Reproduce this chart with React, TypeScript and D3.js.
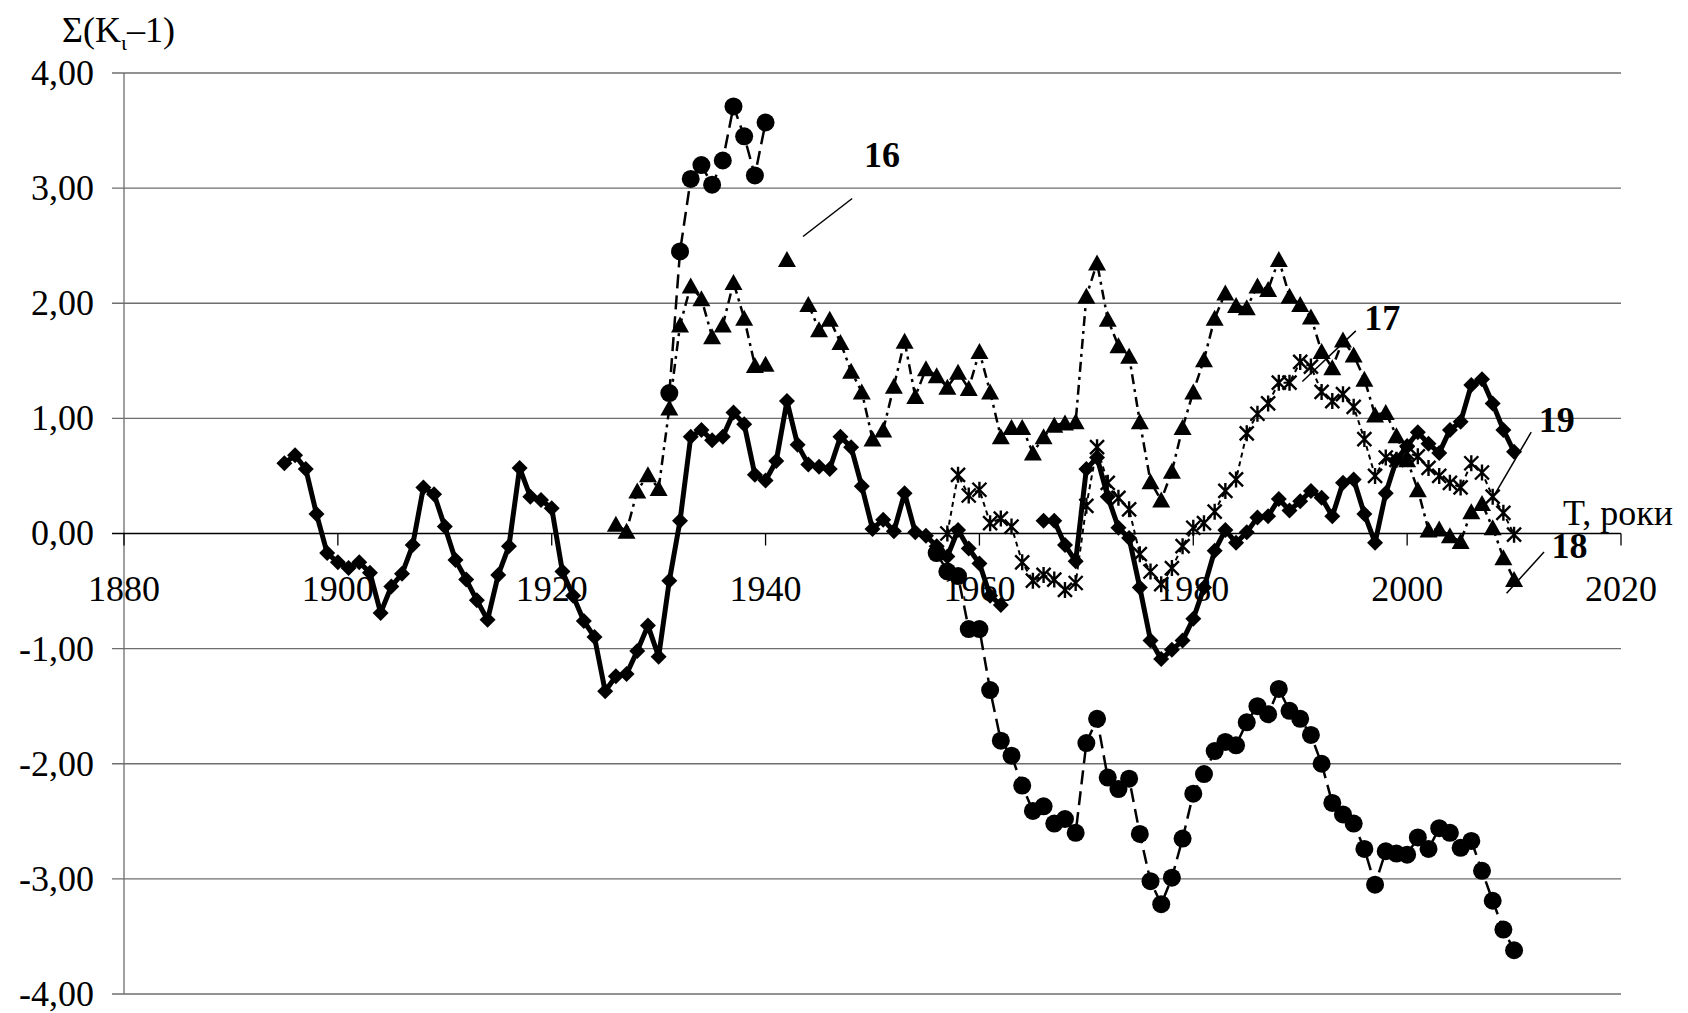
import React from "react";
import * as d3 from "d3";

// Sum of (K - 1) by year. null = no point.
const diamondStart = 1895;
const diamondValues = [
  0.61, 0.68, 0.56, 0.17, -0.17, -0.25, -0.3, -0.25, -0.34, -0.69,
  -0.46, -0.35, -0.1, 0.4, 0.34, 0.06, -0.23, -0.4, -0.58, -0.75,
  -0.36, -0.11, 0.57, 0.32, 0.29, 0.22, -0.33, -0.54, -0.76, -0.9,
  -1.37, -1.24, -1.22, -1.02, -0.8, -1.07, -0.41, 0.11, 0.84, 0.9,
  0.81, 0.84, 1.05, 0.95, 0.51, 0.46, 0.63, 1.15, 0.77, 0.6,
  0.58, 0.56, 0.84, 0.75, 0.41, 0.04, 0.12, 0.02, 0.35, 0.01,
  -0.02, -0.11, -0.2, 0.03, -0.13, -0.26, -0.54, -0.62, null, null,
  null, 0.11, 0.11, -0.1, -0.24, 0.56, 0.66, 0.32, 0.05, -0.04,
  -0.47, -0.93, -1.09, -1.01, -0.93, -0.74, -0.47, -0.15, 0.03, -0.08,
  0.01, 0.14, 0.15, 0.3, 0.2, 0.28, 0.37, 0.31, 0.15, 0.44,
  0.47, 0.17, -0.08, 0.35, 0.64, 0.76, 0.88, 0.78, 0.7, 0.9,
  0.97, 1.29, 1.34, 1.13, 0.9, 0.71,
];

const circleStart = 1931;
const circleValues = [
  1.22, 2.45, 3.08, 3.2, 3.03, 3.24, 3.71, 3.45, 3.11, 3.57,
  null, null, null, null, null, null, null, null, null, null,
  null, null, null, null, null, -0.17, -0.33, -0.37, -0.83, -0.83,
  -1.36, -1.8, -1.93, -2.19, -2.41, -2.37, -2.52, -2.48, -2.6, -1.82,
  -1.61, -2.12, -2.22, -2.13, -2.61, -3.02, -3.22, -2.99, -2.65, -2.26,
  -2.09, -1.89, -1.81, -1.84, -1.64, -1.5, -1.57, -1.35, -1.54, -1.61,
  -1.75, -2.0, -2.34, -2.44, -2.52, -2.74, -3.05, -2.76, -2.78, -2.79,
  -2.64, -2.74, -2.56, -2.6, -2.73, -2.67, -2.93, -3.19, -3.44, -3.62,
];

const triangleStart = 1926;
const triangleValues = [
  0.08, 0.02, 0.37, 0.51, 0.39, 1.09, 1.81, 2.15, 2.04, 1.71,
  1.81, 2.18, 1.87, 1.46, 1.47, null, 2.38, null, 1.99, 1.77,
  1.86, 1.66, 1.41, 1.23, 0.82, 0.9, 1.28, 1.67, 1.19, 1.43,
  1.37, 1.27, 1.4, 1.26, 1.58, 1.23, 0.84, 0.92, 0.92, 0.7,
  0.84, 0.94, 0.96, 0.97, 2.06, 2.35, 1.86, 1.63, 1.54, 0.97,
  0.45, 0.29, 0.54, 0.92, 1.23, 1.51, 1.87, 2.09, 1.98, 1.96,
  2.15, 2.12, 2.38, 2.06, 1.99, 1.88, 1.58, 1.44, 1.68, 1.55,
  1.34, 1.03, 1.05, 0.85, 0.64, 0.38, 0.03, 0.04, -0.02, -0.07,
  0.19, 0.26, 0.05, -0.21, -0.4,
];

const starStart = 1957;
const starValues = [
  0.0, 0.51, 0.33, 0.38, 0.09, 0.13, 0.06, -0.25, -0.41, -0.36,
  -0.4, -0.49, -0.43, 0.24, 0.75, 0.44, 0.31, 0.21, -0.18, -0.33,
  -0.44, -0.3, -0.11, 0.05, 0.09, 0.19, 0.37, 0.47, 0.87, 1.04,
  1.13, 1.31, 1.31, 1.49, 1.45, 1.23, 1.15, 1.21, 1.1, 0.82,
  0.5, 0.66, 0.64, 0.7, 0.67, 0.57, 0.5, 0.44, 0.4, 0.61,
  0.53, 0.32, 0.18, -0.01,
];

const yTicks = [4, 3, 2, 1, 0, -1, -2, -3, -4];
const xTicks = [1880, 1900, 1920, 1940, 1960, 1980, 2000, 2020];

// curve labels: text anchor and leader line, in data units
const curveLabels = [
  { text: "16", x: 1949.2, y: 3.18, x1: 1943.5, y1: 2.58, x2: 1948.1, y2: 2.91 },
  { text: "17", x: 1996.0, y: 1.77, x1: 1990.2, y1: 1.32, x2: 1995.2, y2: 1.76 },
  { text: "19", x: 2012.3, y: 0.88, x1: 2008.0, y1: 0.31, x2: 2011.6, y2: 0.88 },
  { text: "18", x: 2013.5, y: -0.21, x1: 2009.3, y1: -0.52, x2: 2012.8, y2: -0.16 },
];

const W = 1688;
const H = 1013;
const margin = { top: 73, right: 67, bottom: 19, left: 124 };
const FONT = "'Liberation Serif', 'Times New Roman', serif";

type Pt = { year: number; v: number | null };
const toPoints = (start: number, vals: (number | null)[]): Pt[] =>
  vals.map((v, i) => ({ year: start + i, v }));

export default function App() {
  const x = d3.scaleLinear().domain([1880, 2020]).range([margin.left, W - margin.right]);
  const y = d3.scaleLinear().domain([-4, 4]).range([H - margin.bottom, margin.top]);

  const line = d3
    .line<Pt>()
    .defined((d) => d.v != null)
    .x((d) => x(d.year))
    .y((d) => y(d.v as number));

  const diamonds = toPoints(diamondStart, diamondValues);
  const circles = toPoints(circleStart, circleValues);
  const triangles = toPoints(triangleStart, triangleValues);
  const stars = toPoints(starStart, starValues);

  const x0 = x(1880);
  const x1 = x(2020);

  return (
    <svg
      width={W}
      height={H}
      style={{ position: "absolute", left: 0, top: 0, background: "#fff" }}
      fontFamily={FONT}
    >
      {/* grid */}
      {yTicks
        .filter((t) => t !== 0)
        .map((t) => (
          <line key={t} x1={x0 - 12} x2={x1} y1={y(t)} y2={y(t)} stroke="#6e6e6e" strokeWidth={1.3} />
        ))}
      <line x1={x0} x2={x0} y1={y(4)} y2={y(-4)} stroke="#6e6e6e" strokeWidth={1.3} />
      {/* x axis at zero */}
      <line x1={x0 - 12} x2={x1} y1={y(0)} y2={y(0)} stroke="#000" strokeWidth={1.3} />
      {xTicks.map((t) => (
        <g key={t}>
          <line x1={x(t)} x2={x(t)} y1={y(0)} y2={y(0) + 12} stroke="#000" strokeWidth={1.3} />
          <text x={x(t)} y={y(0) + 67} textAnchor="middle" fontSize={36}>
            {t}
          </text>
        </g>
      ))}
      {yTicks.map((t) => (
        <text key={t} x={94} y={y(t)} dy="0.33em" textAnchor="end" fontSize={36}>
          {t.toFixed(2).replace(".", ",")}
        </text>
      ))}

      <text x={62} y={42} fontSize={36}>
        Σ(K<tspan fontSize={22} dy={8}>ι</tspan>
        <tspan dy={-8}>–1)</tspan>
      </text>
      <text x={1563} y={525} fontSize={36}>
        T, роки
      </text>

      {/* diamonds, solid thick */}
      <path d={line(diamonds) || ""} fill="none" stroke="#000" strokeWidth={5} strokeLinejoin="round" />
      {diamonds
        .filter((d) => d.v != null)
        .map((d) => {
          const cx = x(d.year);
          const cy = y(d.v as number);
          const s = 8;
          return (
            <path key={"d" + d.year} d={`M${cx},${cy - s}L${cx + s},${cy}L${cx},${cy + s}L${cx - s},${cy}Z`} fill="#000" />
          );
        })}

      {/* circles, dashed */}
      <path d={line(circles) || ""} fill="none" stroke="#000" strokeWidth={2.5} strokeDasharray="14,7" />
      {circles
        .filter((d) => d.v != null)
        .map((d) => (
          <circle key={"c" + d.year} cx={x(d.year)} cy={y(d.v as number)} r={9} fill="#000" />
        ))}

      {/* triangles, dash-dot */}
      <path d={line(triangles) || ""} fill="none" stroke="#000" strokeWidth={2.5} strokeDasharray="10,5,3,5" />
      {triangles
        .filter((d) => d.v != null)
        .map((d) => {
          const cx = x(d.year);
          const cy = y(d.v as number);
          return (
            <path key={"t" + d.year} d={`M${cx},${cy - 8.5}L${cx + 9},${cy + 7.5}L${cx - 9},${cy + 7.5}Z`} fill="#000" />
          );
        })}

      {/* stars, short dashes */}
      <path d={line(stars) || ""} fill="none" stroke="#000" strokeWidth={2} strokeDasharray="5,4" />
      {stars
        .filter((d) => d.v != null)
        .map((d) => {
          const cx = x(d.year);
          const cy = y(d.v as number);
          const s = 7;
          return (
            <path
              key={"s" + d.year}
              d={`M${cx - s},${cy - s}L${cx + s},${cy + s}M${cx - s},${cy + s}L${cx + s},${cy - s}M${cx},${cy - s - 1}L${cx},${cy + s + 1}`}
              stroke="#000"
              strokeWidth={2.4}
              fill="none"
            />
          );
        })}

      {curveLabels.map((l) => (
        <g key={l.text}>
          <line x1={x(l.x1)} y1={y(l.y1)} x2={x(l.x2)} y2={y(l.y2)} stroke="#000" strokeWidth={1.5} />
          <text x={x(l.x)} y={y(l.y)} fontSize={36} fontWeight="bold">
            {l.text}
          </text>
        </g>
      ))}
    </svg>
  );
}
